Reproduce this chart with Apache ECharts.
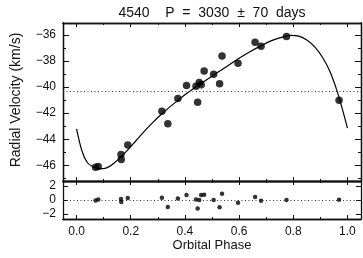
<!DOCTYPE html>
<html><head><meta charset="utf-8">
<script src="https://cdn.jsdelivr.net/npm/echarts@6/dist/echarts.min.js"></script>
<style>html,body{margin:0;padding:0;background:#fff}#c{width:363px;height:258px}</style>
</head><body><div id="c"></div>
<script>
// ---- data ----
const titleText = '4540    P  =  3030  ±  70  days';
const xName = 'Orbital Phase';
const yName = 'Radial Velocity (km/s)';
const phase = [0.070, 0.080, 0.164, 0.165, 0.189, 0.315, 0.337, 0.374, 0.406, 0.441, 0.447, 0.453, 0.460, 0.471, 0.506, 0.528, 0.537, 0.596, 0.659, 0.681, 0.775, 0.969];
const rv    = [-46.14, -46.09, -45.17, -45.55, -44.44, -41.85, -42.82, -40.89, -39.88, -39.95, -41.16, -39.66, -39.82, -38.78, -39.02, -39.75, -37.62, -38.19, -36.57, -36.88, -36.13, -41.02];
const resid = [-0.08, 0.08, 0.14, -0.29, 0.29, 0.33, -1.0, 0.22, 0.71, 0.08, -1.24, 0.0, 0.71, 0.76, 0.0, -1.05, 0.92, -0.38, 0.45, -0.1, 0.0, 0.03];
const fitPhase = [0.00, 0.02, 0.04, 0.06, 0.08, 0.10, 0.12, 0.14, 0.164, 0.19, 0.22, 0.25, 0.28, 0.31, 0.34, 0.37, 0.40, 0.44, 0.48, 0.52, 0.56, 0.60, 0.64, 0.68, 0.72, 0.76, 0.79, 0.82, 0.85, 0.88, 0.91, 0.935, 0.96, 0.98, 1.00];
const fitRV    = [-43.2, -44.9, -45.8, -46.1, -46.25, -46.25, -46.1, -45.8, -45.35, -44.8, -44.1, -43.4, -42.75, -42.15, -41.6, -41.1, -40.6, -40.0, -39.45, -38.9, -38.35, -37.8, -37.3, -36.85, -36.45, -36.18, -36.05, -36.1, -36.4, -36.95, -37.8, -38.8, -40.2, -41.6, -43.15];
const gammaVel = -40.35;
const xMajorTicks = [0.0, 0.2, 0.4, 0.6, 0.8, 1.0];
const xMinorTicks = [0.1, 0.3, 0.5, 0.7, 0.9];
const yMajorTicks = [-46, -44, -42, -40, -38, -36];
const yMinorTicks = [-47, -45, -43, -41, -39, -37];
const rMajorTicks = [-2, 0, 2];

// ---- chart ----
const ink = '#111';
const xMin = -0.05, xMax = 1.05;
const fmtMinus = v => String(v).replace('-', '\u2212');
const labelFont = {fontFamily: 'Liberation Sans', fontSize: 12, color: ink};

function axis(kind, gridIndex, position, min, max, ticks, len, labels, fmt) {
  return {
    type: 'value', gridIndex, position, min, max,
    axisLine: {show: true, onZero: false, lineStyle: {color: ink, width: 1.3}},
    axisTick: {show: true, inside: true, length: len, customValues: ticks, lineStyle: {color: ink, width: 1}},
    axisLabel: labels ? Object.assign({show: true, customValues: ticks, formatter: fmt, margin: 7}, labelFont) : {show: false},
    splitLine: {show: false}
  };
}
const fx1 = v => v.toFixed(1);
const xAxes = [
  axis('x', 0, 'bottom', xMin, xMax, xMajorTicks, 4, false),
  axis('x', 0, 'bottom', xMin, xMax, xMinorTicks, 2, false),
  axis('x', 0, 'top', xMin, xMax, xMajorTicks, 4, false),
  axis('x', 0, 'top', xMin, xMax, xMinorTicks, 2, false),
  axis('x', 1, 'bottom', xMin, xMax, xMajorTicks, 4, true, fx1),
  axis('x', 1, 'bottom', xMin, xMax, xMinorTicks, 2, false),
  axis('x', 1, 'top', xMin, xMax, xMajorTicks, 4, false),
  axis('x', 1, 'top', xMin, xMax, xMinorTicks, 2, false)
];
const yMin = -47.2, yMax = -35.1, rMin = -2.75, rMax = 2.75;
const yAxes = [
  axis('y', 0, 'left', yMin, yMax, yMajorTicks, 6, true, fmtMinus),
  axis('y', 0, 'left', yMin, yMax, yMinorTicks, 3, false),
  axis('y', 0, 'right', yMin, yMax, yMajorTicks, 6, false),
  axis('y', 0, 'right', yMin, yMax, yMinorTicks, 3, false),
  axis('y', 1, 'left', rMin, rMax, rMajorTicks, 5, true, fmtMinus),
  axis('y', 1, 'right', rMin, rMax, rMajorTicks, 5, false)
];

const dotted = {color: '#333', width: 1, type: [1, 2.5]};

const option = {
  animation: false,
  backgroundColor: '#fff',
  grid: [
    {left: 63, top: 23, width: 298, height: 158},
    {left: 63, top: 181, width: 298, height: 38}
  ],
  xAxis: xAxes,
  yAxis: yAxes,
  series: [
    {type: 'line', xAxisIndex: 0, yAxisIndex: 0, data: fitPhase.map((p, i) => [p, fitRV[i]]),
     smooth: 0.3, showSymbol: false, symbol: 'none', lineStyle: {color: '#000', width: 1.2}, z: 3,
     markLine: {silent: true, symbol: 'none', label: {show: false}, lineStyle: dotted, data: [{yAxis: gammaVel}]}},
    {type: 'scatter', xAxisIndex: 0, yAxisIndex: 0, data: phase.map((p, i) => [p, rv[i]]),
     symbol: 'circle', symbolSize: 7.5, itemStyle: {color: '#000'}, z: 4},
    {type: 'scatter', xAxisIndex: 4, yAxisIndex: 4, data: phase.map((p, i) => [p, resid[i]]),
     symbol: 'circle', symbolSize: 4.5, itemStyle: {color: '#000'}, z: 4,
     markLine: {silent: true, symbol: 'none', label: {show: false}, lineStyle: dotted, data: [{yAxis: 0}]}}
  ],
  graphic: [
    {type: 'text', x: 212, y: 13, style: {text: titleText, fontFamily: 'Liberation Sans', fontSize: 14, fill: ink, align: 'center', verticalAlign: 'middle'}},
    {type: 'text', x: 212, y: 245, style: {text: xName, fontFamily: 'Liberation Sans', fontSize: 13, fill: ink, align: 'center', verticalAlign: 'middle'}},
    {type: 'text', x: 16, y: 100, rotation: Math.PI / 2, style: {text: yName, fontFamily: 'Liberation Sans', fontSize: 14, fill: ink, align: 'center', verticalAlign: 'middle'}}
  ]
};
echarts.init(document.getElementById('c'), null, {renderer: 'canvas'}).setOption(option);
</script></body></html>
